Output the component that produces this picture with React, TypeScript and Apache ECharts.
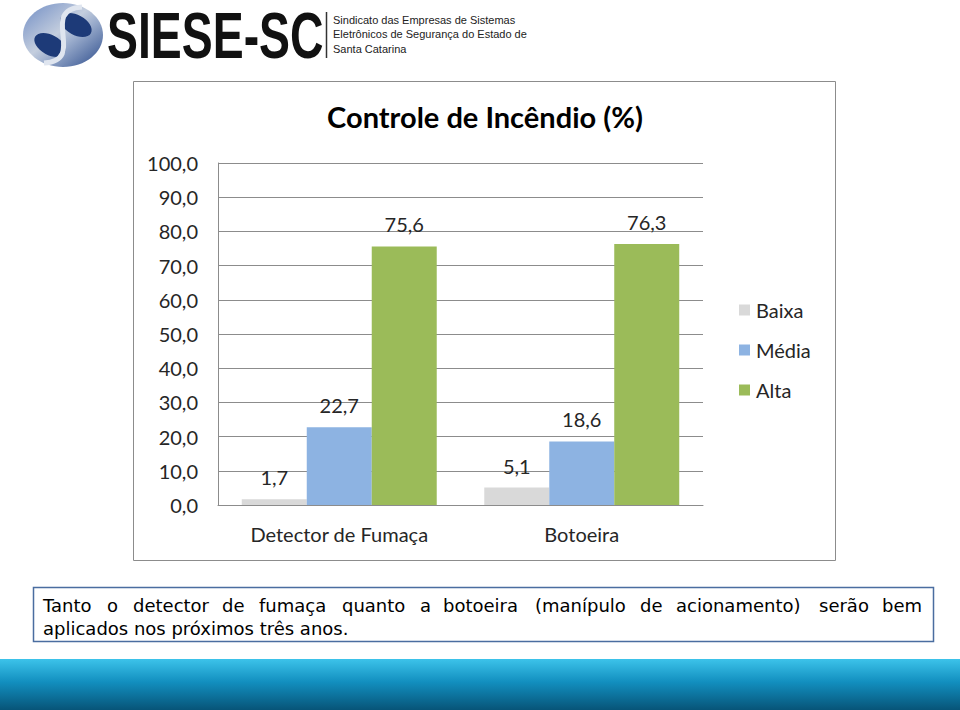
import React, { useEffect, useRef } from "react";
import * as echarts from "echarts";

const categories = ["Detector de Fumaça", "Botoeira"];
const seriesNames = ["Baixa", "Média", "Alta"];
const baixa = [1.7, 5.1];
const media = [22.7, 18.6];
const alta = [75.6, 76.3];
const colors = ["#d9d9d9", "#8db3e2", "#9bbb59"];
const title = "Controle de Incêndio (%)";
const headerLines = [
  "Sindicato das Empresas de Sistemas",
  "Eletrônicos de Segurança do Estado de",
  "Santa Catarina",
];
const noteLine1 = [
  "Tanto", "o", "detector", "de", "fumaça", "quanto", "a", "botoeira",
  "(manípulo", "de", "acionamento)", "serão", "bem",
];
const noteLine1X = [43, 107, 133, 222, 259, 342, 420, 443, 535, 640, 676, 819, 882];
const noteLine2 = "aplicados nos próximos três anos.";

const fmt = (v: number) => v.toFixed(1).replace(".", ",");

export default function App() {
  const ref = useRef<HTMLDivElement>(null);
  useEffect(() => {
    if (!ref.current) return;
    const chart = echarts.init(ref.current, null, { renderer: "svg" });
    const font = "Lato, 'Open Sans', sans-serif";
    const noteFont = "'DejaVu Sans', sans-serif";
    const dataSets = [baixa, media, alta];

    const graphics: any[] = [
      {
        type: "rect",
        z: -10,
        shape: { x: 133.5, y: 81.5, width: 702, height: 479 },
        style: { fill: "#ffffff", stroke: "#8c8c8c", lineWidth: 1 },
      },
      // logo
      {
        type: "ellipse",
        shape: { cx: 63, cy: 35, rx: 40, ry: 32 },
        style: {
          fill: new echarts.graphic.LinearGradient(0, 0, 1, 1, [
            { offset: 0, color: "#6f8cc4" },
            { offset: 0.45, color: "#c4cede" },
            { offset: 0.6, color: "#9aaccc" },
            { offset: 1, color: "#2a4a8a" },
          ]),
        },
      },
      {
        type: "ellipse",
        rotation: -0.5,
        x: 76,
        y: 25,
        shape: { cx: 0, cy: 0, rx: 17, ry: 10 },
        style: { fill: "#1d3a78" },
      },
      {
        type: "ellipse",
        rotation: -0.5,
        x: 50,
        y: 45,
        shape: { cx: 0, cy: 0, rx: 17, ry: 10 },
        style: { fill: "#1d3a78" },
      },
      {
        type: "bezierCurve",
        shape: { x1: 82, y1: 7, x2: 44, y2: 63, cpx1: 38, cpy1: 10, cpx2: 88, cpy2: 60 },
        style: { stroke: "#dfe5ef", lineWidth: 5, fill: "none" },
      },
      {
        type: "text",
        x: 107,
        y: 4,
        scaleX: 0.725,
        style: {
          text: "SIESE-SC",
          font: "bold 64px 'Liberation Sans Narrow', 'Liberation Sans', sans-serif",
          fill: "#111111",
        },
      },
      {
        type: "line",
        shape: { x1: 326.5, y1: 12, x2: 326.5, y2: 58 },
        style: { stroke: "#333333", lineWidth: 1.5 },
      },
      ...headerLines.map((t, i) => ({
        type: "text",
        x: 333,
        y: 14 + i * 14.5,
        style: { text: t, font: "11px 'Liberation Sans', Arial, sans-serif", fill: "#222222" },
      })),
      // note box
      {
        type: "rect",
        shape: { x: 33.5, y: 587.5, width: 900, height: 54 },
        style: { fill: "#ffffff", stroke: "#4a6da0", lineWidth: 1.5 },
      },
      ...noteLine1.map((w, i) => ({
        type: "text",
        x: noteLine1X[i],
        y: 605,
        style: {
          text: w,
          font: "18px " + noteFont,
          fill: "#000000",
          textVerticalAlign: "middle",
        },
      })),
      {
        type: "text",
        x: 43,
        y: 628,
        style: {
          text: noteLine2,
          font: "18px " + noteFont,
          fill: "#000000",
          textVerticalAlign: "middle",
        },
      },
      // bottom band
      {
        type: "rect",
        shape: { x: 0, y: 659, width: 960, height: 51 },
        style: {
          fill: new echarts.graphic.LinearGradient(0, 0, 0, 1, [
            { offset: 0, color: "#3cc3ea" },
            { offset: 0.45, color: "#128fbf" },
            { offset: 1, color: "#075478" },
          ]),
        },
      },
    ];

    chart.setOption({
      animation: false,
      backgroundColor: "#ffffff",
      title: {
        text: title,
        left: 480,
        top: 97,
        textAlign: "center",
        textStyle: { fontFamily: font, fontSize: 29, fontWeight: "bold", color: "#000000" },
      },
      legend: {
        orient: "vertical",
        left: 734,
        top: 295,
        itemWidth: 11,
        itemHeight: 11,
        itemGap: 20,
        icon: "rect",
        data: seriesNames,
        textStyle: { fontFamily: font, fontSize: 20, color: "#262626", padding: [0, 0, 0, 1] },
      },
      grid: { left: 218, right: 257, top: 163, bottom: 205 },
      xAxis: {
        type: "category",
        data: categories,
        axisLine: { show: true, lineStyle: { color: "#8c8c8c" } },
        axisTick: { show: false },
        axisLabel: { fontFamily: font, fontSize: 20, color: "#262626", margin: 19 },
      },
      yAxis: {
        type: "value",
        min: 0,
        max: 100,
        interval: 10,
        axisLine: { show: true, lineStyle: { color: "#8c8c8c" } },
        axisTick: { show: false },
        splitLine: { lineStyle: { color: "#8c8c8c" } },
        axisLabel: {
          fontFamily: font,
          fontSize: 20,
          color: "#262626",
          margin: 20,
          formatter: (v: number) => fmt(v),
        },
      },
      series: seriesNames.map((name, i) => ({
        name,
        type: "bar",
        data: dataSets[i],
        barGap: "0%",
        barCategoryGap: "19.6%",
        itemStyle: { color: colors[i] },
        label: {
          show: true,
          position: "top",
          distance: 12,
          fontFamily: font,
          fontSize: 20,
          color: "#262626",
          formatter: (p: any) => fmt(p.value),
        },
      })),
      graphic: graphics,
    });
    return () => chart.dispose();
  }, []);
  return (
    <div
      ref={ref}
      style={{ position: "fixed", left: 0, top: 0, width: 960, height: 710 }}
    />
  );
}
